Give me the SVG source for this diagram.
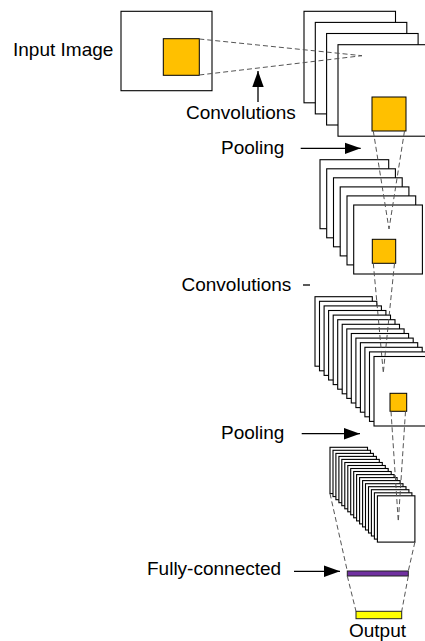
<svg xmlns="http://www.w3.org/2000/svg" width="425" height="641" viewBox="0 0 425 641">
<style>
  .lbl { font-family: "Liberation Sans", Arial, sans-serif; font-size: 19px; fill: #000; }
  .fr { fill: #fff; stroke: #000; stroke-width: 1.1; }
  .org { fill: #FFC000; stroke: #000; stroke-width: 1; }
  .dash { fill: none; stroke: #555; stroke-width: 1; stroke-dasharray: 5 3; }
  .arr { fill: none; stroke: #000; stroke-width: 1.3; marker-end: url(#ah); }
</style>
<defs>
  <marker id="ah" markerUnits="userSpaceOnUse" markerWidth="16" markerHeight="12" viewBox="0 0 14 10" refX="14" refY="5" orient="auto">
    <path d="M0,0 L14,5 L0,10 Z" fill="#000"/>
  </marker>
</defs>
<rect width="425" height="641" fill="#fff"/>

<g id="input-image">
  <rect class="fr" x="121" y="11.3" width="91" height="79.4"/>
  <rect class="org" x="163.3" y="38.7" width="36" height="36.6"/>
  <text class="lbl" x="13" y="56">Input Image</text>
</g>

<g id="stack1">
  <rect class="fr" x="304" y="11.3" width="91.5" height="91.5"/>
  <rect class="fr" x="315.3" y="22.4" width="91.5" height="91.5"/>
  <rect class="fr" x="326.6" y="33.5" width="91.5" height="91.5"/>
  <rect class="fr" x="338" y="44.7" width="91.5" height="91.5"/>
  <rect class="org" x="372" y="97" width="34" height="34"/>
</g>

<g id="stack2">
  <rect class="fr" x="320" y="159.7" width="68.7" height="69"/>
  <rect class="fr" x="326.7" y="168.8" width="68.7" height="69"/>
  <rect class="fr" x="333.5" y="177.8" width="68.7" height="69"/>
  <rect class="fr" x="340.2" y="186.9" width="68.7" height="69"/>
  <rect class="fr" x="347" y="195.9" width="68.7" height="69"/>
  <rect class="fr" x="353.7" y="205" width="68.7" height="69"/>
  <rect class="org" x="372.3" y="239.3" width="23.4" height="24"/>
</g>

<g id="stack3">
  <rect class="fr" x="315" y="296.7" width="57.3" height="69.5"/>
  <rect class="fr" x="319.5" y="301.3" width="57.3" height="69.5"/>
  <rect class="fr" x="324.1" y="305.9" width="57.3" height="69.5"/>
  <rect class="fr" x="328.6" y="310.5" width="57.3" height="69.5"/>
  <rect class="fr" x="333.2" y="315.1" width="57.3" height="69.5"/>
  <rect class="fr" x="337.7" y="319.7" width="57.3" height="69.5"/>
  <rect class="fr" x="342.2" y="324.3" width="57.3" height="69.5"/>
  <rect class="fr" x="346.8" y="328.9" width="57.3" height="69.5"/>
  <rect class="fr" x="351.3" y="333.5" width="57.3" height="69.5"/>
  <rect class="fr" x="355.9" y="338.1" width="57.3" height="69.5"/>
  <rect class="fr" x="360.4" y="342.7" width="57.3" height="69.5"/>
  <rect class="fr" x="364.9" y="347.3" width="57.3" height="69.5"/>
  <rect class="fr" x="369.5" y="351.9" width="57.3" height="69.5"/>
  <rect class="fr" x="374" y="356.5" width="57.3" height="69.5"/>
  <rect class="org" x="390" y="393.3" width="16.7" height="18"/>
</g>

<g id="stack4">
  <rect class="fr" x="330" y="447.3" width="37.5" height="46.3"/>
  <rect class="fr" x="333" y="450.3" width="37.5" height="46.3"/>
  <rect class="fr" x="335.9" y="453.4" width="37.5" height="46.3"/>
  <rect class="fr" x="338.9" y="456.4" width="37.5" height="46.3"/>
  <rect class="fr" x="341.8" y="459.4" width="37.5" height="46.3"/>
  <rect class="fr" x="344.8" y="462.5" width="37.5" height="46.3"/>
  <rect class="fr" x="347.8" y="465.5" width="37.5" height="46.3"/>
  <rect class="fr" x="350.7" y="468.5" width="37.5" height="46.3"/>
  <rect class="fr" x="353.7" y="471.5" width="37.5" height="46.3"/>
  <rect class="fr" x="356.6" y="474.6" width="37.5" height="46.3"/>
  <rect class="fr" x="359.6" y="477.6" width="37.5" height="46.3"/>
  <rect class="fr" x="362.6" y="480.6" width="37.5" height="46.3"/>
  <rect class="fr" x="365.5" y="483.7" width="37.5" height="46.3"/>
  <rect class="fr" x="368.5" y="486.7" width="37.5" height="46.3"/>
  <rect class="fr" x="371.4" y="489.7" width="37.5" height="46.3"/>
  <rect class="fr" x="374.4" y="492.8" width="37.5" height="46.3"/>
  <rect class="fr" x="377.4" y="495.8" width="37.5" height="46.3"/>
</g>

<g id="fully-connected">
  <rect x="347.3" y="571" width="61" height="5" fill="#7030A0" stroke="#222" stroke-width="1"/>
  <text class="lbl" x="147" y="575">Fully-connected</text>
</g>

<g id="output">
  <rect x="356" y="611.3" width="45.7" height="7.4" fill="#FFFF00" stroke="#222" stroke-width="1"/>
  <text class="lbl" x="349" y="637">Output</text>
</g>

<g id="labels">
  <text class="lbl" x="186" y="119">Convolutions</text>
  <text class="lbl" x="221" y="154">Pooling</text>
  <text class="lbl" x="181.5" y="291">Convolutions</text>
  <text class="lbl" x="221" y="439">Pooling</text>
</g>

<g id="connectors">
  <path class="dash" d="M199.3,39 L362,55.7 M199.3,75 L362,55.7"/>
  <path class="dash" d="M373.3,131 L389,229 M404.5,131 L389,229"/>
  <path class="dash" d="M373.3,263.3 L383.3,372.7 M394.5,263.3 L383.3,372.7"/>
  <path class="dash" d="M391,411.3 L398.3,521.7 M405.5,411.3 L398.3,521.7"/>
  <path class="dash" d="M330,493.6 L347.3,571 M414.9,542.1 L408.3,571"/>
  <path class="dash" d="M347.3,576 L356,611.3 M408.3,576 L401.7,611.3"/>
  <line class="arr" x1="258" y1="102" x2="258" y2="71"/>
  <line class="arr" x1="300.7" y1="148.3" x2="360.7" y2="148.3"/>
  <line x1="303" y1="285" x2="310" y2="285" stroke="#000" stroke-width="1.3"/>
  <line class="arr" x1="301.7" y1="433.7" x2="360" y2="433.7"/>
  <line class="arr" x1="294" y1="571.3" x2="340" y2="571.3"/>
</g>
</svg>
